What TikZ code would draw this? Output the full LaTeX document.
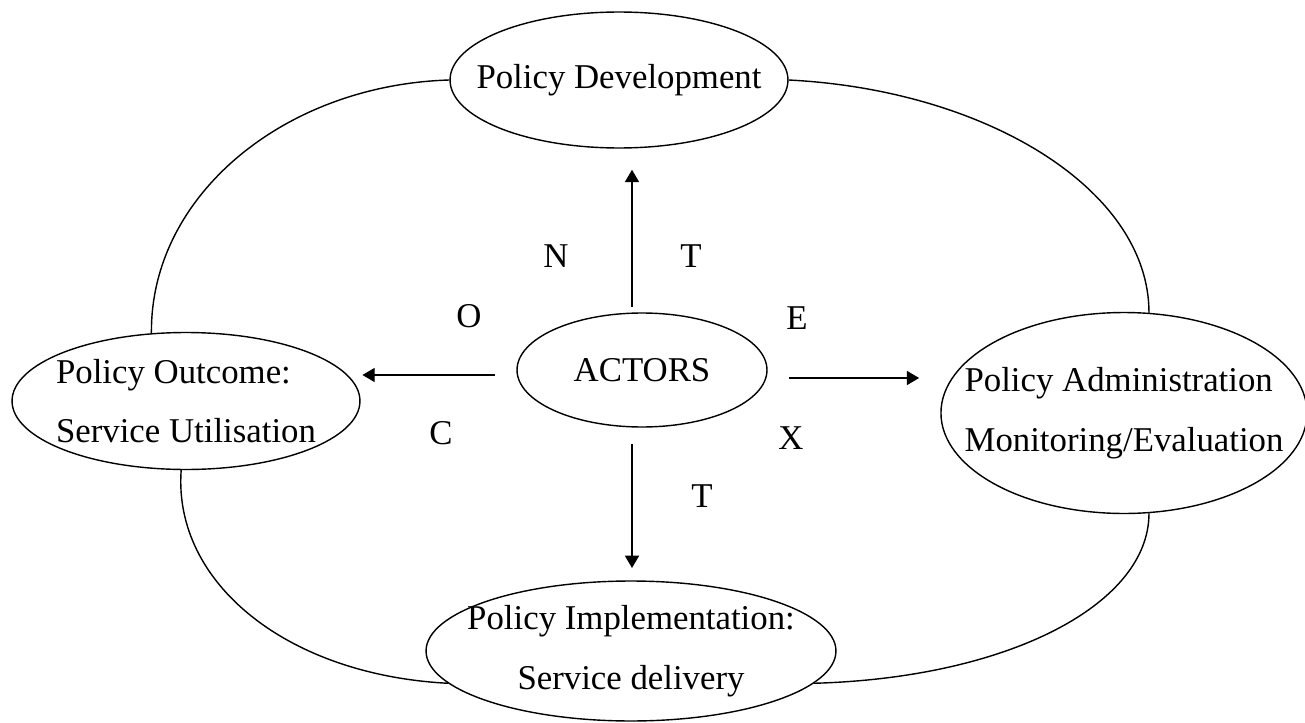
\documentclass[tikz,border=0pt]{standalone}
\usepackage{fontspec}
\setmainfont{Liberation Serif}
\usetikzlibrary{arrows.meta,shapes.geometric}

\begin{document}
\begin{tikzpicture}[x=0.02cm,y=-0.02cm,>={Triangle[length=7pt,width=8pt]},line width=0.8pt,
  font=\fontsize{19.8}{34}\selectfont,
  stage/.style={draw,ellipse,inner xsep=-0.6cm,inner ysep=0pt}]
\useasboundingbox (0,0) rectangle (1305,723);
\node[stage,minimum width=6.76cm,minimum height=2.72cm] (pd) at (619,80) {Policy Development};
\node[stage,minimum width=6.96cm,minimum height=2.74cm,align=left] (po) at (186,401) {Policy Outcome:\\Service Utilisation};
\node[stage,minimum width=7.18cm,minimum height=4.02cm,align=left] (pa) at (1124,413) {Policy Administration\\Monitoring/Evaluation};
\node[stage,minimum width=8.2cm,minimum height=2.8cm,align=center] (pi) at (631,651) {Policy Implementation:\\Service delivery};
\node[stage,minimum width=5cm,minimum height=2.28cm] (actors) at (642,370) {ACTORS};
% the cycle
\draw (pd.west) .. controls (284,85) and (150,196) .. (po.117);
\draw (pd.east) .. controls (987,90) and (1149,190) .. (pa.76);
\draw (po.266) .. controls (173,583) and (287,675) .. (pi.190);
\draw (pa.284) .. controls (1149,605) and (1007,678) .. (pi.350);
% arrows out of the actors
\draw[->,shorten <=3pt,shorten >=12pt] ([xshift=-0.2cm]actors.north) -- ([xshift=-0.2cm]actors.north |- pd.south);
\draw[->,shorten <=9pt,shorten >=7pt] ([xshift=-0.2cm]actors.south) -- ([xshift=-0.2cm]actors.south |- pi.north);
\draw[->,shorten <=12pt,shorten >=1pt] ([yshift=-0.1cm]actors.west) -- ([yshift=-0.1cm]actors.west -| po.east);
\draw[->,shorten <=12pt,shorten >=12pt] ([yshift=-0.16cm]actors.east) -- ([yshift=-0.16cm]actors.east -| pa.west);
% CONTEXT
\node (cN) at (556,256) {N};
\node (cT) at (691,256) {T};
\node (cO) at (469,316) {O};
\node (cE) at (797,318) {E};
\node (cC) at (441,433) {C};
\node (cX) at (791,438) {X};
\node (cT2) at (702,496) {T};
\end{tikzpicture}
\end{document}
